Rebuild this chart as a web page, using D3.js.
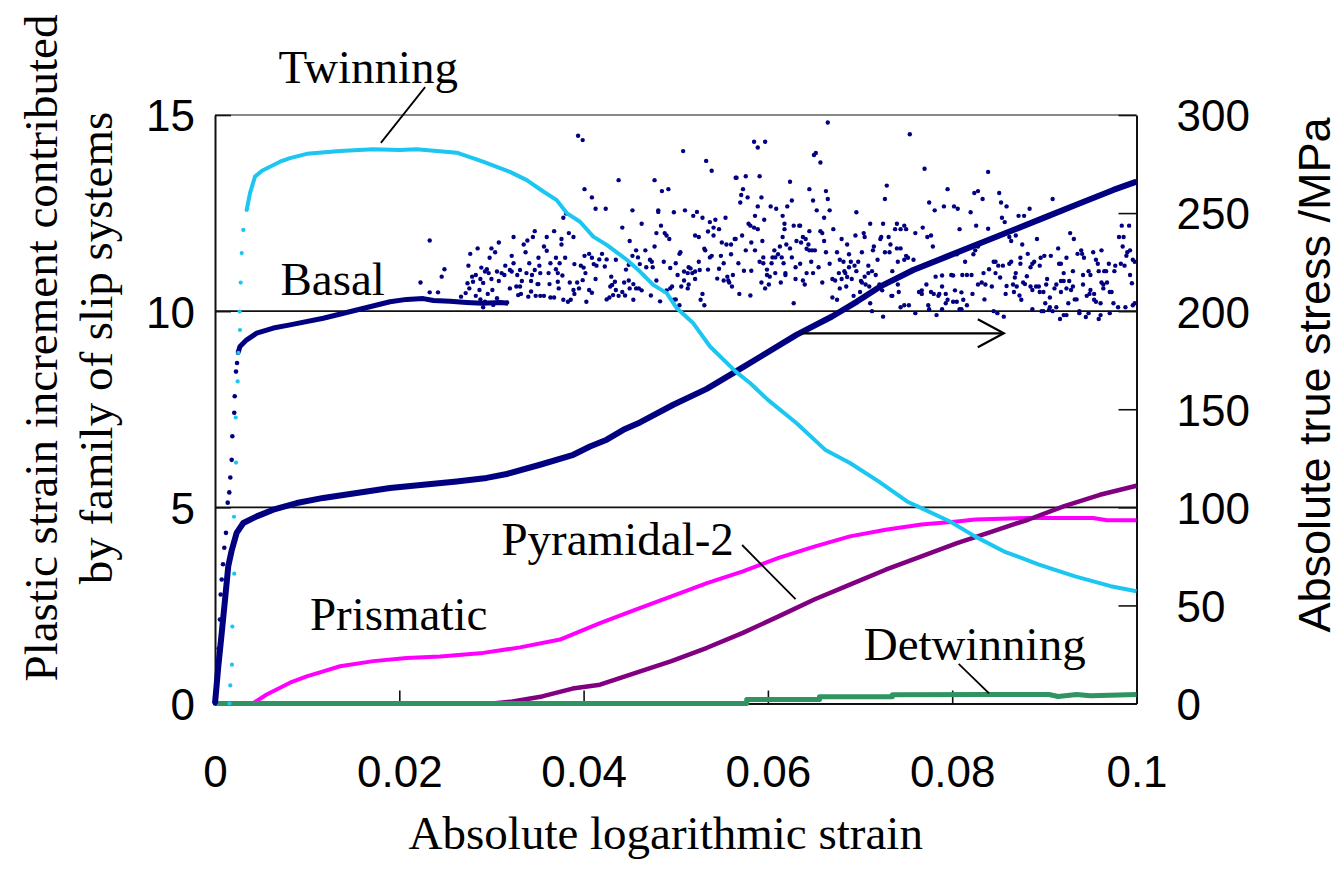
<!DOCTYPE html>
<html>
<head>
<meta charset="utf-8">
<script src="https://cdn.jsdelivr.net/npm/d3@7"></script>
<style>
  body { margin: 0; background: #fff; }
  svg { display: block; }
</style>
</head>
<body>
<svg id="chart" width="1343" height="887"></svg>
<script>
// ---------- axis ticks ----------
const strainTicks = [0, 0.02, 0.04, 0.06, 0.08, 0.1];
const strainTickLabels = ["0", "0.02", "0.04", "0.06", "0.08", "0.1"];
const leftTicks = [0, 5, 10, 15];
const rightTicks = [0, 50, 100, 150, 200, 250, 300];

// ---------- twinning contribution ----------
const twinningStrain = [0, 0.00157, 0.00166, 0.00184, 0.00188, 0.00206, 0.00209, 0.00225, 0.00228, 0.00246,
  0.00253, 0.00268, 0.00271, 0.00279, 0.0029, 0.00307, 0.00344, 0.0038, 0.00434, 0.0051, 0.00597, 0.00705, 0.00814,
  0.00995, 0.01357, 0.01715, 0.02008, 0.02189, 0.02623, 0.02908, 0.03201, 0.03383, 0.03563, 0.03708, 0.03817,
  0.03961, 0.04105, 0.04251, 0.04468, 0.04612, 0.04756, 0.04902, 0.0501, 0.05191, 0.05372, 0.05651, 0.05806,
  0.06, 0.06309, 0.0662, 0.06891, 0.07201, 0.0751, 0.07666, 0.07976, 0.08247, 0.08558, 0.08942, 0.09333,
  0.0972, 0.1];
const twinningValue = [0, 0, 0.46, 0.99, 1.96, 4.76, 3.31, 7.29, 6.14, 8.21,
  8.94, 9.99, 9.52, 10.73, 11.48, 12.07, 12.58, 13.01, 13.43, 13.58, 13.68, 13.81, 13.9,
  14.01, 14.08, 14.13, 14.11, 14.13, 14.04, 13.81, 13.55, 13.34, 13.05, 12.83, 12.5,
  12.28, 11.9, 11.69, 11.31, 11.01, 10.67, 10.46, 10.08, 9.69, 9.1, 8.46, 8.17,
  7.74, 7.15, 6.47, 6.13, 5.66, 5.15, 4.98, 4.64, 4.26, 3.88, 3.54, 3.24,
  2.99, 2.86];

// ---------- basal contribution (early rise and plateau) ----------
const basalStrain = [0, 0.0002, 0.0004, 0.00054, 0.00062, 0.00073, 0.00087, 0.00101, 0.00119, 0.00138,
  0.00155, 0.00166, 0.00181, 0.00188, 0.00209, 0.00214, 0.00228, 0.00239, 0.0025, 0.00271, 0.00344,
  0.00453, 0.00633, 0.00814, 0.01175, 0.01538, 0.01899, 0.0208, 0.0226, 0.0237, 0.0255, 0.0273, 0.029,
  0.031, 0.0318];
const basalValue = [0, 0.6, 1.4, 2.14, 2.78, 3.16, 3.55, 3.97, 4.35, 5.12,
  5.38, 5.76, 6.21, 6.81, 7.41, 7.83, 8.46, 8.68, 8.94, 9.1, 9.27,
  9.44, 9.57, 9.65, 9.82, 10.03, 10.24, 10.3, 10.32, 10.27, 10.25, 10.22, 10.2,
  10.22, 10.2];

// ---------- basal contribution, scattered increments [strain, value] ----------
const basalScatter = [
  [0.0223,10.73],[0.0233,11.8],[0.0233,10.48],[0.0242,10.48],
  [0.0394,14.47],[0.0399,14.36],[0.0438,13.34],[0.0401,13.11],[0.0409,12.9],[0.0413,12.61],[0.0424,12.61],
  [0.0381,12.49],[0.0378,12.38],[0.0347,12.04],[0.0368,12.04],[0.0324,11.89],[0.0345,11.89],[0.036,11.89],
  [0.0384,11.99],[0.0389,11.89],[0.0376,11.84],[0.0339,11.8],[0.0308,11.75],[0.0335,11.7],[0.0376,11.7],
  [0.03,11.6],[0.0285,11.6],[0.0357,11.65],[0.036,11.54],[0.0304,11.5],[0.0337,11.5],[0.0277,11.46],
  [0.0322,11.41],[0.0298,11.36],[0.0351,11.36],[0.037,11.36],[0.038,11.36],[0.0401,11.41],[0.0406,11.46],
  [0.0409,11.36],[0.042,11.46],[0.0417,11.32],[0.0425,11.32],[0.0435,11.31],[0.0324,11.22],[0.0275,11.16],
  [0.0289,11.11],[0.0315,11.16],[0.0341,11.22],[0.0352,11.16],[0.0364,11.22],[0.0374,11.22],[0.039,11.2],
  [0.0397,11.16],[0.0411,11.2],[0.0414,11.16],[0.0423,11.14],[0.0249,11.07],[0.0295,11.07],[0.032,11.05],
  [0.0331,11.05],[0.0347,11.05],[0.037,11.07],[0.04,11.11],[0.0283,10.92],[0.0293,11.01],[0.0297,10.97],
  [0.0306,11.01],[0.0311,10.97],[0.0322,11.01],[0.0338,10.97],[0.0353,10.97],[0.0362,10.97],[0.0372,10.97],
  [0.0402,10.97],[0.0246,10.88],[0.0279,10.88],[0.0288,10.82],[0.03,10.82],[0.0314,10.92],[0.0328,10.92],
  [0.0344,10.92],[0.0377,10.91],[0.0413,10.82],[0.043,10.88],[0.0274,10.71],[0.028,10.75],[0.0291,10.72],
  [0.0308,10.77],[0.0333,10.77],[0.0343,10.77],[0.035,10.69],[0.0363,10.69],[0.0372,10.75],[0.0385,10.73],
  [0.0393,10.73],[0.0399,10.79],[0.0431,10.67],[0.0434,10.75],[0.0276,10.58],[0.0287,10.54],[0.0296,10.44],
  [0.0301,10.54],[0.032,10.58],[0.0327,10.63],[0.0331,10.63],[0.0343,10.5],[0.0351,10.69],[0.0373,10.58],
  [0.0389,10.54],[0.0406,10.54],[0.0409,10.47],[0.0435,10.54],[0.0429,10.63],[0.0283,10.39],[0.0288,10.3],
  [0.0272,10.46],[0.0267,10.37],[0.0306,10.33],[0.0329,10.41],[0.0332,10.44],[0.034,10.37],[0.0348,10.39],
  [0.0353,10.39],[0.0357,10.39],[0.0364,10.35],[0.0368,10.35],[0.0378,10.29],[0.0383,10.24],[0.0386,10.29],
  [0.039,10.44],[0.0395,10.58],[0.0403,10.24],[0.0425,10.3],[0.0428,10.35],[0.0432,10.41],[0.0438,10.39],
  [0.0293,10.24],[0.0302,10.16],[0.0291,10.1],[0.0309,10.22],[0.0317,10.22],
  [0.0585,14.32],[0.0597,14.32],[0.0589,14.17],[0.0508,14.08],[0.0533,13.83],[0.0539,13.58],[0.0565,13.4],
  [0.0566,13.4],[0.0576,13.44],[0.0591,13.44],[0.0477,13.34],[0.0624,13.3],[0.0492,13.11],[0.0485,13.06],
  [0.0573,13.11],[0.0571,12.96],[0.0578,12.9],[0.057,12.77],[0.0593,12.9],[0.0626,12.82],[0.0589,12.67],
  [0.0603,12.67],[0.0609,12.61],[0.0621,12.67],[0.0453,12.57],[0.0481,12.57],[0.0481,12.53],[0.0498,12.52],
  [0.051,12.57],[0.0523,12.53],[0.0519,12.43],[0.0529,12.38],[0.0586,12.43],[0.0616,12.43],[0.0554,12.38],
  [0.0543,12.33],[0.0537,12.27],[0.0596,12.33],[0.0463,12.23],[0.0484,12.18],[0.0442,12.13],[0.0541,12.13],
  [0.0547,12.09],[0.0579,12.23],[0.0581,12.18],[0.0585,12.13],[0.0589,12.09],[0.0618,12.23],[0.0618,12.09],
  [0.0628,12.18],[0.0634,12.18],[0.0535,12.03],[0.0521,11.93],[0.0525,11.89],[0.0479,11.99],[0.0488,11.99],
  [0.049,11.93],[0.0493,11.84],[0.0541,11.93],[0.0572,11.93],[0.0564,11.84],[0.0565,11.84],[0.0616,11.89],
  [0.055,11.75],[0.045,11.79],[0.0555,11.7],[0.056,11.7],[0.0582,11.75],[0.0594,11.79],[0.0477,11.65],
  [0.0531,11.59],[0.0532,11.55],[0.0613,11.65],[0.062,11.7],[0.0624,11.6],[0.0631,11.79],[0.0457,11.55],
  [0.0467,11.55],[0.0505,11.5],[0.0504,11.46],[0.0539,11.41],[0.0537,11.37],[0.0576,11.55],[0.0586,11.55],
  [0.0607,11.55],[0.0611,11.45],[0.0453,11.41],[0.0459,11.37],[0.0472,11.31],[0.0474,11.26],[0.0549,11.41],
  [0.056,11.45],[0.0608,11.37],[0.0605,11.37],[0.0615,11.37],[0.0626,11.37],[0.0595,11.37],[0.0591,11.26],
  [0.0595,11.22],[0.0604,11.22],[0.0449,11.18],[0.0461,11.2],[0.0468,11.12],[0.0475,11.12],[0.0487,11.26],
  [0.05,11.22],[0.0525,11.26],[0.0552,11.22],[0.0568,11.22],[0.0617,11.22],[0.063,11.12],[0.0446,11.06],
  [0.0494,11.1],[0.0514,11.12],[0.0516,11.09],[0.0535,11.06],[0.0547,11.08],[0.0521,11.01],[0.0509,11.01],
  [0.0513,10.97],[0.0518,10.97],[0.0526,11.05],[0.0574,11.03],[0.0582,11.03],[0.0599,11.06],[0.0608,10.97],
  [0.0619,10.97],[0.0619,10.92],[0.0502,10.92],[0.0562,10.92],[0.0556,10.88],[0.0545,10.83],[0.0552,10.78],
  [0.0557,10.78],[0.0558,10.73],[0.0561,10.63],[0.0599,10.92],[0.0602,10.88],[0.0521,10.82],[0.063,10.82],
  [0.0444,10.73],[0.0449,10.78],[0.0454,10.69],[0.0479,10.78],[0.0509,10.78],[0.0514,10.68],[0.0506,10.63],
  [0.0593,10.73],[0.0614,10.73],[0.0601,10.68],[0.0442,10.49],[0.0445,10.4],[0.045,10.58],[0.0457,10.58],
  [0.046,10.58],[0.0463,10.53],[0.0473,10.4],[0.049,10.53],[0.0494,10.58],[0.0496,10.63],[0.0513,10.58],
  [0.0529,10.44],[0.0527,10.29],[0.0531,10.15],[0.0569,10.44],[0.0581,10.4],[0.0597,10.58],[0.0454,10.29],
  [0.0483,10.25],[0.0498,10.29],[0.05,10.3],[0.0504,10.15],[0.0628,10.2],
  [0.0665,14.81],[0.0754,14.51],[0.0652,14.03],[0.065,13.98],[0.0657,13.79],[0.077,13.63],[0.0729,13.2],
  [0.0645,13.11],[0.0663,13.06],[0.0795,13.11],[0.0828,13.06],[0.0824,13.01],[0.0665,12.86],[0.0727,12.86],
  [0.0649,12.82],[0.0775,12.77],[0.0653,12.57],[0.0667,12.57],[0.0696,12.52],[0.0781,12.57],[0.0791,12.67],
  [0.0802,12.67],[0.0806,12.61],[0.082,12.52],[0.0661,12.38],[0.0635,12.18],[0.0711,12.23],[0.0725,12.23],
  [0.074,12.23],[0.0748,12.18],[0.0671,12.09],[0.0645,12.04],[0.0657,12.04],[0.0659,11.99],[0.0695,11.93],
  [0.0704,11.99],[0.0705,11.89],[0.0738,12.09],[0.0744,12.09],[0.075,12.09],[0.076,11.99],[0.0768,12.13],
  [0.0773,11.89],[0.0777,11.93],[0.0826,12.18],[0.0808,12.09],[0.0638,11.89],[0.0641,11.84],[0.0661,11.79],
  [0.068,11.84],[0.0723,11.89],[0.0722,11.84],[0.0731,11.89],[0.0636,11.75],[0.0644,11.7],[0.0645,11.55],
  [0.0648,11.55],[0.0651,11.55],[0.0686,11.7],[0.0715,11.65],[0.0714,11.55],[0.0733,11.7],[0.074,11.6],
  [0.0744,11.6],[0.0779,11.65],[0.0642,11.59],[0.0675,11.5],[0.0688,11.45],[0.0702,11.5],[0.0727,11.5],
  [0.0732,11.5],[0.075,11.41],[0.0663,11.5],[0.0752,11.36],[0.0758,11.31],[0.0793,11.39],[0.0805,11.45],
  [0.0823,11.45],[0.0825,11.55],[0.0828,11.65],[0.0635,11.21],[0.0647,11.26],[0.0667,11.21],[0.0682,11.26],
  [0.069,11.26],[0.0698,11.26],[0.0694,11.16],[0.0709,11.16],[0.0719,11.31],[0.0741,11.26],[0.0748,11.31],
  [0.0814,11.26],[0.0655,11.12],[0.0678,11.31],[0.0683,11.02],[0.0684,10.97],[0.0688,11.12],[0.0696,11.02],
  [0.0709,10.97],[0.0705,10.88],[0.0713,11.02],[0.0717,10.92],[0.0735,11.02],[0.0642,10.97],[0.0649,10.97],
  [0.0659,10.73],[0.067,10.82],[0.0673,10.78],[0.0677,10.97],[0.068,10.82],[0.0686,10.87],[0.0691,10.82],
  [0.0701,10.77],[0.0702,10.73],[0.0706,10.68],[0.0721,10.68],[0.0741,10.68],[0.0772,10.68],[0.0782,10.88],
  [0.0789,10.91],[0.0799,10.92],[0.0801,10.91],[0.0811,10.92],[0.0816,10.92],[0.0821,10.92],[0.0828,10.68],
  [0.0638,10.78],[0.064,10.68],[0.0678,10.58],[0.0685,10.63],[0.07,10.49],[0.071,10.63],[0.0724,10.53],
  [0.0734,10.39],[0.0735,10.39],[0.0742,10.49],[0.0764,10.49],[0.0767,10.44],[0.0767,10.53],[0.0777,10.49],
  [0.078,10.44],[0.0786,10.44],[0.0785,10.39],[0.0789,10.63],[0.0793,10.44],[0.0803,10.53],[0.081,10.48],
  [0.0822,10.44],[0.067,10.35],[0.0675,10.29],[0.0693,10.39],[0.0711,10.2],[0.0748,10.15],[0.0753,10.15],
  [0.0774,10.15],[0.0793,10.2],[0.0805,10.24],[0.0812,10.29],[0.0816,10.15],[0.0795,10.29],[0.0801,10.24],
  [0.0744,10.1],[0.0713,10.0],[0.0725,9.86],[0.076,9.95],[0.0775,10.05],[0.0783,9.9],[0.0789,10.05],
  [0.0808,10.05],[0.081,10.05],
  [0.0839,13.55],[0.0833,12.86],[0.0851,13.01],[0.0853,12.77],[0.0859,12.67],[0.0884,12.61],[0.0909,12.86],
  [0.0854,12.38],[0.0857,12.27],[0.0872,12.43],[0.0878,12.43],[0.0839,12.1],[0.0984,12.18],[0.0992,12.18],
  [0.0928,11.99],[0.0932,11.84],[0.0892,11.84],[0.0869,11.93],[0.0862,11.89],[0.0864,11.79],[0.0981,11.89],
  [0.0986,11.89],[0.0876,11.7],[0.0915,11.6],[0.0985,11.65],[0.0993,11.55],[0.094,11.55],[0.0936,11.46],
  [0.0941,11.46],[0.0953,11.5],[0.0962,11.55],[0.0882,11.46],[0.0874,11.36],[0.0896,11.36],[0.09,11.41],
  [0.0907,11.41],[0.0924,11.36],[0.099,11.5],[0.0989,11.41],[0.0845,11.26],[0.0847,11.26],[0.085,11.16],
  [0.0855,11.16],[0.0862,11.21],[0.0864,11.26],[0.0874,11.21],[0.0887,11.21],[0.0889,11.26],[0.0885,11.12],
  [0.0895,11.16],[0.0916,11.21],[0.0918,11.21],[0.0943,11.36],[0.0956,11.31],[0.0958,11.21],[0.097,11.21],
  [0.0977,11.16],[0.0983,11.21],[0.0987,11.16],[0.0998,11.26],[0.0996,11.31],[0.084,11.07],[0.0847,10.97],
  [0.0834,10.97],[0.0881,10.89],[0.0869,10.97],[0.0868,10.86],[0.0903,10.82],[0.0921,10.97],[0.0931,11.02],
  [0.0921,10.77],[0.0927,10.77],[0.0942,10.92],[0.0948,11.02],[0.0959,11.02],[0.0965,11.02],[0.0967,11.02],
  [0.0976,11.02],[0.095,10.92],[0.0993,10.92],[0.0995,10.71],[0.0832,10.73],[0.0836,10.68],[0.0843,10.63],
  [0.0852,10.86],[0.0859,10.64],[0.0866,10.68],[0.087,10.63],[0.0877,10.73],[0.0879,10.69],[0.0885,10.63],
  [0.0887,10.54],[0.0891,10.63],[0.0894,10.63],[0.0895,10.49],[0.0899,10.49],[0.0902,10.68],[0.0913,10.68],
  [0.0911,10.58],[0.0918,10.77],[0.0924,10.58],[0.0929,10.54],[0.0931,10.63],[0.0942,10.68],[0.095,10.54],
  [0.0954,10.44],[0.0962,10.73],[0.0964,10.58],[0.0964,10.68],[0.0968,10.73],[0.0971,10.49],[0.0973,10.49],
  [0.0835,10.3],[0.0858,10.44],[0.0867,10.49],[0.0873,10.4],[0.0875,10.29],[0.0906,10.35],[0.0918,10.49],
  [0.0926,10.2],[0.0933,10.3],[0.0935,10.3],[0.0946,10.39],[0.0949,10.44],[0.0954,10.29],[0.0956,10.24],
  [0.0961,10.2],[0.0975,10.2],[0.098,10.1],[0.0988,10.1],[0.0996,10.15],[0.0998,10.2],[0.0887,10.05],
  [0.0897,10.0],[0.0899,10.0],[0.0901,10.2],[0.0906,10.1],[0.0905,10.03],[0.0909,10.0],[0.0913,10.1],
  [0.0921,9.9],[0.0924,9.9],[0.0917,9.8],[0.0938,10.0],[0.0938,9.95],[0.0945,9.85],[0.0948,9.95],
  [0.0959,9.8],[0.0961,9.9],[0.0971,9.95],[0.0845,10.0],[0.0849,9.95],[0.0856,9.86]
];

// ---------- prismatic contribution ----------
const prismaticStrain = [0, 0.0041, 0.00561, 0.00814, 0.00995, 0.01175, 0.01357, 0.01718, 0.0208, 0.02442,
  0.0291, 0.0331, 0.03744, 0.04178, 0.04565, 0.04953, 0.05339, 0.05728, 0.06116, 0.06503, 0.0689, 0.07278,
  0.07666, 0.08052, 0.0825, 0.08829, 0.09527, 0.09681, 0.1];
const prismaticValue = [0, 0, 0.23, 0.53, 0.69, 0.82, 0.95, 1.08, 1.16, 1.2,
  1.29, 1.43, 1.63, 2.05, 2.39, 2.73, 3.07, 3.37, 3.71, 4.0, 4.26, 4.43,
  4.56, 4.64, 4.69, 4.73, 4.73, 4.67, 4.67];

// ---------- pyramidal-2 contribution ----------
const pyramidalStrain = [0, 0.0301, 0.0323, 0.0355, 0.0388, 0.04178, 0.04565, 0.04953, 0.05339, 0.05728,
  0.06116, 0.06503, 0.0689, 0.07278, 0.07666, 0.08052, 0.0844, 0.08829, 0.09216, 0.09603, 0.1];
const pyramidalValue = [0, 0, 0.05, 0.18, 0.38, 0.48, 0.78, 1.08, 1.42, 1.8,
  2.22, 2.65, 3.03, 3.41, 3.75, 4.09, 4.39, 4.69, 5.03, 5.32, 5.55];

// ---------- detwinning contribution ----------
const detwinningStrain = [0, 0.0577, 0.0577, 0.0656, 0.0656, 0.0735, 0.0735, 0.084, 0.0905, 0.0915, 0.0935, 0.095, 0.1];
const detwinningValue = [0, 0, 0.1, 0.1, 0.17, 0.17, 0.22, 0.23, 0.23, 0.18, 0.23, 0.2, 0.23];

// ---------- absolute true stress (MPa, right axis) ----------
const stressStrain = [0, 0.00036, 0.00073, 0.00109, 0.00144, 0.00181, 0.00235, 0.00307, 0.00453, 0.00633,
  0.00887, 0.01175, 0.01538, 0.01899, 0.0226, 0.02623, 0.02948, 0.03166, 0.03527, 0.03888, 0.04069, 0.04251,
  0.04431, 0.04612, 0.04973, 0.05336, 0.0565, 0.05922, 0.06309, 0.06696, 0.06967, 0.07216, 0.07578, 0.0794,
  0.08302, 0.08664, 0.09026, 0.09387, 0.09749, 0.1];
const stressMPa = [0, 19, 36, 53, 70, 78, 87, 92, 95.4, 98.8,
  102.2, 104.8, 107.3, 109.9, 111.5, 113.2, 115, 117, 121.7, 126.8, 131, 134.5,
  139.5, 143.3, 152.3, 160.4, 169.2, 176.9, 187.9, 197.3, 204.9, 212.5, 221, 227.8,
  234.6, 241.4, 248.2, 255, 261.8, 266];

// ---------- layout ----------
const plot = { left: 215, right: 1136.5, top: 115, bottom: 703.5 };
const serif = "'Liberation Serif', 'Times New Roman', serif";
const sans = "'Liberation Sans', Arial, sans-serif";
const colors = {
  navy: "#000080", cyan: "#1BC6F0", magenta: "#FF00FF", purple: "#800080", green: "#2F9460"
};

const svg = d3.select("#chart");
const x = d3.scaleLinear().domain([0, 0.1]).range([plot.left, plot.right]);
const yL = d3.scaleLinear().domain([0, 15]).range([plot.bottom, plot.top]);
const yR = d3.scaleLinear().domain([0, 300]).range([plot.bottom, plot.top]);

const zip = (a, b) => a.map((d, i) => [d, b[i]]);

// ---------- frame & gridlines ----------
svg.append("line")
  .attr("x1", plot.left).attr("x2", plot.right)
  .attr("y1", plot.top).attr("y2", plot.top)
  .attr("stroke", "#888").attr("stroke-width", 2.2);

svg.append("g").selectAll("line").data([5, 10]).join("line")
  .attr("x1", plot.left).attr("x2", plot.right)
  .attr("y1", d => yL(d)).attr("y2", d => yL(d))
  .attr("stroke", "#111").attr("stroke-width", 1.6);

function styleAxis(g) {
  g.select(".domain").attr("stroke", "#111").attr("stroke-width", 2);
  g.selectAll(".tick line").attr("stroke", "#111").attr("stroke-width", 1.6);
  g.selectAll(".tick text").attr("fill", "#000")
    .attr("font-family", sans).attr("font-size", 44);
}

const gx = svg.append("g").attr("transform", `translate(0,${plot.bottom})`)
  .call(d3.axisBottom(x).tickValues(strainTicks)
    .tickFormat((d, i) => strainTickLabels[i])
    .tickSizeInner(-13).tickSizeOuter(0).tickPadding(52));
styleAxis(gx);
gx.selectAll(".tick text").attr("dy", "0.71em");

const gl = svg.append("g").attr("transform", `translate(${plot.left},0)`)
  .call(d3.axisLeft(yL).tickValues(leftTicks)
    .tickSizeInner(-16).tickSizeOuter(0).tickPadding(20));
styleAxis(gl);
gl.selectAll(".tick text").attr("dy", "0.36em");

const gr = svg.append("g").attr("transform", `translate(${plot.right},0)`)
  .call(d3.axisRight(yR).tickValues(rightTicks)
    .tickSizeInner(-18).tickSizeOuter(0).tickPadding(40));
styleAxis(gr);
gr.selectAll(".tick text").attr("dy", "0.36em");

// ---------- series ----------
const lineL = d3.line().x(d => x(d[0])).y(d => yL(d[1]));
const lineR = d3.line().x(d => x(d[0])).y(d => yR(d[1]));

function drawLine(points, gen, color, width) {
  svg.append("path").datum(points)
    .attr("fill", "none").attr("stroke", color)
    .attr("stroke-width", width).attr("stroke-linejoin", "round")
    .attr("d", gen);
}
function drawDots(points, yScale, color, r) {
  svg.append("g").selectAll("circle").data(points).join("circle")
    .attr("cx", d => x(d[0])).attr("cy", d => yScale(d[1]))
    .attr("r", r).attr("fill", color);
}

// prismatic and pyramidal-2
drawLine(zip(prismaticStrain, prismaticValue), lineL, colors.magenta, 4);
drawLine(zip(pyramidalStrain, pyramidalValue), lineL, colors.purple, 4.5);

// detwinning (steps along the baseline, drawn over the zero segments)
drawLine(zip(detwinningStrain, detwinningValue), lineL, colors.green, 5);

// stress–strain curve on the right axis
drawLine(zip(stressStrain, stressMPa), lineR, colors.navy, 6);

// basal: sparse increments during the jump, then a dense plateau, then scatter
const basalPts = zip(basalStrain, basalValue);
drawDots(basalPts.filter(d => d[0] < 0.0027), yL, colors.navy, 2.3);
drawLine(basalPts.filter(d => d[0] >= 0.0025), lineL, colors.navy, 5);
drawDots(basalScatter, yL, colors.navy, 2.2);

// twinning: sparse points during the jump, then dense curve
const twinPts = zip(twinningStrain, twinningValue);
drawDots(twinPts.filter(d => d[0] > 0.0015 && d[0] < 0.0036), yL, colors.cyan, 2.1);
drawLine(twinPts.filter(d => d[0] >= 0.0034), lineL, colors.cyan, 4);

// ---------- annotations ----------
function label(text, sx, vy, anchor) {
  svg.append("text").attr("x", x(sx)).attr("y", yL(vy))
    .attr("text-anchor", anchor || "start")
    .attr("font-family", serif).attr("font-size", 47).attr("fill", "#000")
    .text(text);
}
function leader(s1, v1, s2, v2) {
  svg.append("line")
    .attr("x1", x(s1)).attr("y1", yL(v1)).attr("x2", x(s2)).attr("y2", yL(v2))
    .attr("stroke", "#000").attr("stroke-width", 1.8);
}

label("Twinning", 0.0069, 15.82);
leader(0.0228, 15.71, 0.0180, 14.29);
label("Basal", 0.0071, 10.41);
label("Prismatic", 0.0103, 1.87);
label("Pyramidal-2", 0.0563, 3.79, "end");
leader(0.0572, 4.04, 0.0630, 2.66);
label("Detwinning", 0.0704, 1.11);
leader(0.0807, 1.01, 0.0840, 0.26);

// arrow: stress curve belongs to the right-hand axis
const arrowY = yR(188.7);
const ax1 = x(0.0637), ax2 = x(0.0856);
svg.append("line").attr("x1", ax1).attr("x2", ax2).attr("y1", arrowY).attr("y2", arrowY)
  .attr("stroke", "#000").attr("stroke-width", 2.2);
svg.append("path")
  .attr("d", `M${ax2 - 26},${arrowY - 14} L${ax2},${arrowY} L${ax2 - 26},${arrowY + 14}`)
  .attr("fill", "none").attr("stroke", "#000").attr("stroke-width", 2.2);

// ---------- axis titles ----------
svg.append("text")
  .attr("x", (plot.left + plot.right) / 2 - 10).attr("y", 849)
  .attr("text-anchor", "middle").attr("font-family", serif).attr("font-size", 47)
  .text("Absolute logarithmic strain");

const leftTitle = svg.append("text")
  .attr("transform", "translate(0,348) rotate(-90)")
  .attr("text-anchor", "middle").attr("font-family", serif).attr("font-size", 47);
leftTitle.append("tspan").attr("x", 0).attr("y", 57).text("Plastic strain increment contributed");
leftTitle.append("tspan").attr("x", 0).attr("y", 112).text("by family of slip systems");

svg.append("text")
  .attr("transform", "translate(1330,375) rotate(-90)")
  .attr("text-anchor", "middle").attr("font-family", sans).attr("font-size", 45)
  .text("Absolute true stress /MPa");
</script>
</body>
</html>
